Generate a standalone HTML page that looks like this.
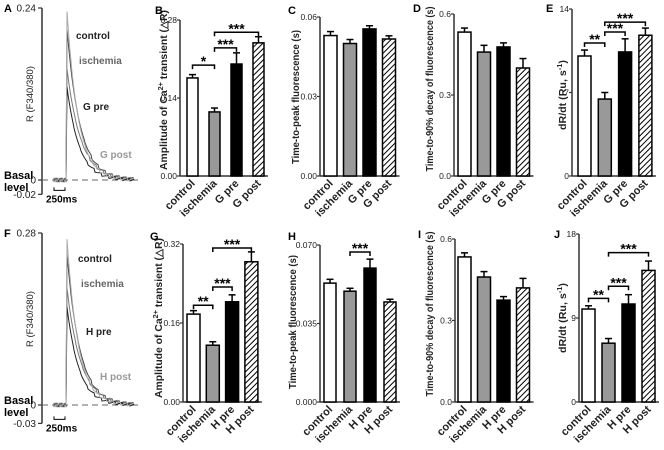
<!DOCTYPE html>
<html><head><meta charset="utf-8"><style>
html,body{margin:0;padding:0;background:#fff}
svg{display:block;font-family:"Liberation Sans",Arial,sans-serif}
</style></head><body>
<svg id="fig" width="664" height="450" viewBox="0 0 664 450" xmlns="http://www.w3.org/2000/svg">
<defs>
<pattern id="hatch" patternUnits="userSpaceOnUse" width="4" height="4" patternTransform="rotate(45)">
<rect width="4" height="4" fill="#fff"/><line x1="0" y1="0" x2="0" y2="4" stroke="#000" stroke-width="2"/>
</pattern>
</defs>
</svg>
<script>
// ---- data ----
const groupsG = ["control","ischemia","G pre","G post"];
const groupsH = ["control","ischemia","H pre","H post"];
const bValues = [0.176,0.115,0.201,0.239];
const bErrors = [0.006,0.007,0.020,0.011];
const cValues = [0.053,0.050,0.0555,0.0517];
const cErrors = [0.0015,0.0015,0.0012,0.0012];
const dValues = [0.533,0.459,0.478,0.400];
const dErrors = [0.015,0.025,0.015,0.035];
const eValues = [10.06,6.45,10.4,11.8];
const eErrors = [0.5,0.55,1.1,0.6];
const gValues = [0.178,0.115,0.203,0.284];
const gErrors = [0.007,0.007,0.014,0.02];
const hValues = [0.053,0.0494,0.0597,0.0446];
const hErrors = [0.0017,0.0013,0.004,0.0012];
const iValues = [0.534,0.46,0.375,0.42];
const iErrors = [0.015,0.02,0.013,0.035];
const jValues = [9.96,6.3,10.5,14.1];
const jErrors = [0.35,0.5,1.0,1.0];
const bTicks = ["0.00","0.14","0.28"];
const cTicks = ["0.00","0.03","0.06"];
const dTicks = ["0.0","0.3","0.6"];
const eTicks = ["0","7","14"];
const gTicks = ["0.00","0.16","0.32"];
const hTicks = ["0.000","0.035","0.070"];
const iTicks = ["0.0","0.3","0.6"];
const jTicks = ["0","9","18"];
// significance: [from, to, level, stars]
const bSig = [[0,1,0.199,"*"],[1,2,0.230,"***"],[1,3,0.258,"***"]];
const eSig = [[0,1,11.15,"**"],[1,2,12.07,"***"],[1,3,12.9,"***"]];
const gSig = [[0,1,0.196,"**"],[1,2,0.233,"***"],[1,3,0.312,"***"]];
const hSig = [[1,2,0.0669,"***"]];
const jSig = [[0,1,11.1,"**"],[1,2,12.4,"***"],[1,3,16.0,"***"]];
// traces: peak values (ΔR) and decay time constants (ms)
const traceNamesTop = ["control","ischemia","G pre","G post"];
const tracePeaksTop = [0.21,0.155,0.13,0.235];
const traceNamesBot = ["control","ischemia","H pre","H post"];
const tracePeaksBot = [0.245,0.19,0.16,0.27];
const traceTau = [310,330,290,270];

const NS="http://www.w3.org/2000/svg";
const svg=document.getElementById('fig');
function el(tag,attrs,parent,text){const e=document.createElementNS(NS,tag);for(const k in attrs)e.setAttribute(k,attrs[k]);if(text!==undefined)e.textContent=text;(parent||svg).appendChild(e);return e;}
const fills=["#fff","#999","#000","url(#hatch)"];

function barPanel(p){
  const g=el('g',{});
  
  
  const max=p.max;
  const y=v=>p.y0-(v/max)*(p.y0-p.yTop);
  const xL=i=>p.ax+p.off+i*p.step;
  const xC=i=>xL(i)+p.w/2;
  const right=xL(3)+p.w+4;
  const ya=el('line',{x1:p.ax,y1:p.yTop,x2:p.ax,y2:p.y0,stroke:'#333','stroke-width':1.5},g);
  
  const xa=el('line',{x1:p.ax,y1:p.y0,x2:right,y2:p.y0,stroke:'#333','stroke-width':1.5},g);
  
  p.ticks.forEach((t,k)=>{
    const ty=y(max*k/2);
    el('line',{x1:p.ax-3,y1:ty,x2:p.ax,y2:ty,stroke:'#333','stroke-width':1.2},g);
    const tl=el('text',{x:p.ax-3,y:ty+3,'font-size':8.5,'text-anchor':'end',fill:'#222'},g,t);
    
  });
  p.vals.forEach((v,i)=>{
    const top=y(v), et=y(v+p.errs[i]);
    el('line',{x1:xC(i),y1:top,x2:xC(i),y2:et,stroke:'#000','stroke-width':1.5},g);
    el('line',{x1:xC(i)-3.5,y1:et,x2:xC(i)+3.5,y2:et,stroke:'#000','stroke-width':1.5},g);
    const r=el('rect',{x:xL(i),y:top,width:p.w,height:p.y0-top,fill:fills[i],stroke:'#000','stroke-width':1.5},g);
    
    
    const cx=xC(i), cy=p.y0+8;
    const lab=el('text',{x:cx+3,y:cy,'font-size':11,'font-weight':'bold','text-anchor':'end',fill:'#222',transform:`rotate(-45 ${cx+3} ${cy})`},g,p.groups[i]);
    
  });
  (p.sig||[]).forEach(s=>{
    const sy=y(s[2]);
    el('path',{d:`M${xC(s[0])} ${sy+4}V${sy}H${xC(s[1])}V${sy+4}`,fill:'none',stroke:'#000','stroke-width':1.5},g);
    const st=el('text',{x:(xC(s[0])+xC(s[1]))/2,y:sy+1,'font-size':14,'font-weight':'bold','text-anchor':'middle'},g,s[3]);
    
  });
  const tx=p.titleX, tyc=p.titleY;
  const tt=el('text',{x:tx,y:tyc,'font-size':10,'font-weight':'bold','text-anchor':'middle',fill:'#222',textLength:p.titleLen,lengthAdjust:'spacingAndGlyphs',transform:`rotate(-90 ${tx} ${tyc})`},g);
  
  tt.innerHTML=p.title;
  const L=el('text',{x:p.lx,y:p.ly,'font-size':11,'font-weight':'bold'},g,p.letter);
  
}

const ampTitle='Amplitude of Ca<tspan font-size="7" dy="-4">2+</tspan><tspan dy="4"> transient (△R)</tspan>';
const dTitle='dR/dt (Ru, s<tspan font-size="7" dy="-4">-1</tspan><tspan dy="4">)</tspan>';
barPanel({name:'panel-b',letter:'B',lx:155,ly:14,ax:180,yTop:20,y0:176,max:0.28,ticks:bTicks,vals:bValues,errs:bErrors,sig:bSig,groups:groupsG,off:7,step:22,w:11,title:ampTitle,titleX:167,titleY:90,titleLen:160});
barPanel({name:'panel-c',letter:'C',lx:288,ly:14,ax:320,yTop:17,y0:176,max:0.06,ticks:cTicks,vals:cValues,errs:cErrors,groups:groupsG,off:4,step:19.5,w:13,title:'Time-to-peak fluorescence (s)',titleX:299,titleY:97,titleLen:134});
barPanel({name:'panel-d',letter:'D',lx:413,ly:12,ax:454,yTop:14,y0:176,max:0.6,ticks:dTicks,vals:dValues,errs:dErrors,groups:groupsG,off:4,step:19.5,w:13,title:'Time-to-90% decay of fluorescence (s)',titleX:433,titleY:89,titleLen:165});
barPanel({name:'panel-e',letter:'E',lx:546,ly:12,ax:572,yTop:9,y0:176,max:14,ticks:eTicks,vals:eValues,errs:eErrors,sig:eSig,groups:groupsG,off:6,step:20.3,w:13,title:dTitle,titleX:566,titleY:95,titleLen:70});
barPanel({name:'panel-g',letter:'G',lx:150,ly:240,ax:183,yTop:244,y0:402,max:0.32,ticks:gTicks,vals:gValues,errs:gErrors,sig:gSig,groups:groupsH,off:4,step:19.3,w:13,title:ampTitle,titleX:162,titleY:318,titleLen:160});
barPanel({name:'panel-h',letter:'H',lx:288,ly:240,ax:320,yTop:245,y0:402,max:0.07,ticks:hTicks,vals:hValues,errs:hErrors,sig:hSig,groups:groupsH,off:4,step:20,w:12,title:'Time-to-peak fluorescence (s)',titleX:296,titleY:322,titleLen:134});
barPanel({name:'panel-i',letter:'I',lx:418,ly:238,ax:455,yTop:239,y0:402,max:0.6,ticks:iTicks,vals:iValues,errs:iErrors,groups:groupsH,off:3,step:19.5,w:13,title:'Time-to-90% decay of fluorescence (s)',titleX:433,titleY:314,titleLen:165});
barPanel({name:'panel-j',letter:'J',lx:554,ly:238,ax:579,yTop:234,y0:402,max:18,ticks:jTicks,vals:jValues,errs:jErrors,sig:jSig,groups:groupsH,off:3,step:20,w:13,title:dTitle,titleX:566,titleY:318,titleLen:70});

function tracePanel(p){
  const g=el('g',{});
  
  
  const y=v=>p.y0-(v/p.max)*(p.y0-p.yTop);
  const ya=el('line',{x1:p.ax,y1:p.yTop,x2:p.ax,y2:y(p.min),stroke:'#333','stroke-width':1.5},g);
  
  [[p.max,p.topLabel],[0,'0'],[p.min,p.minLabel]].forEach(([v,t])=>{
    el('line',{x1:p.ax-4,y1:y(v),x2:p.ax,y2:y(v),stroke:'#333','stroke-width':1.2},g);
    el('text',{x:p.ax-6,y:y(v)+3.5,'font-size':10,'text-anchor':'end',fill:'#222'},g,t);
  });
  el('line',{x1:p.ax,y1:p.y0,x2:p.ax+98,y2:p.y0,stroke:'#666','stroke-width':1,'stroke-dasharray':'6,4'},g);
  const tx=33,tyc=(p.yTop+p.y0)/2;
  el('text',{x:tx,y:tyc,'font-size':9.5,'text-anchor':'middle',fill:'#222',transform:`rotate(-90 ${tx} ${tyc})`},g,'R (F340/380)');
  el('text',{x:4,y:p.y0-1,'font-size':11,'font-weight':'bold'},g,'Basal');
  el('text',{x:4,y:p.y0+11,'font-size':11,'font-weight':'bold'},g,'level');
  el('text',{x:4,y:p.yTop+4,'font-size':11,'font-weight':'bold'},g,p.letter);
  const sb=y(p.min)-4;
  el('path',{d:`M${p.ax+12} ${sb-3}V${sb}H${p.ax+23}V${sb-3}`,fill:'none',stroke:'#000','stroke-width':1},g);
  el('text',{x:p.ax+4,y:sb+12,'font-size':10,'font-weight':'bold'},g,'250ms');
  const colors=['#444','#777','#222','#aaa'];
  const xs=p.ax+12, xp=p.ax+25, xe=p.ax+92, pxPerMs=0.042;
  p.peaks.forEach((pk,k)=>{
    let d=`M${xs} ${y(0)}`;
    for(let x=xs;x<xp;x+=1) d+=`L${x} ${y(0)+((x*7+k*3)%5-2)*0.8}`;
    d+=`L${xp} ${y(pk)}`;
    for(let x=xp+1;x<=xe;x+=1){const t=(x-xp)/pxPerMs;const v=pk*Math.exp(-t/traceTau[k]);d+=`L${x} ${y(v)+((x*13+k*5)%7-3)*(x>xp+20?0.5:0.15)}`;}
    const tr=el('path',{d,fill:'none',stroke:colors[k],'stroke-width':1},g);
    
    
  });
  p.names.forEach((n,k)=>{
    el('text',{x:p.lab[k][0],y:p.lab[k][1],'font-size':10,'font-weight':'bold',fill:k==3?'#999':(k==1?'#666':'#222')},g,n);
  });
}
tracePanel({name:'panel-a',letter:'A',ax:42,yTop:8,y0:180,max:0.24,min:-0.02,topLabel:'0.24',minLabel:'-0.02',peaks:tracePeaksTop,names:traceNamesTop,lab:[[76,39],[79,64],[83,110],[100,158]]});
tracePanel({name:'panel-f',letter:'F',ax:42,yTop:233,y0:405,max:0.28,min:-0.03,topLabel:'0.28',minLabel:'-0.03',peaks:tracePeaksBot,names:traceNamesBot,lab:[[78,262],[81,287],[86,335],[100,380]]});
</script>
</body></html>
